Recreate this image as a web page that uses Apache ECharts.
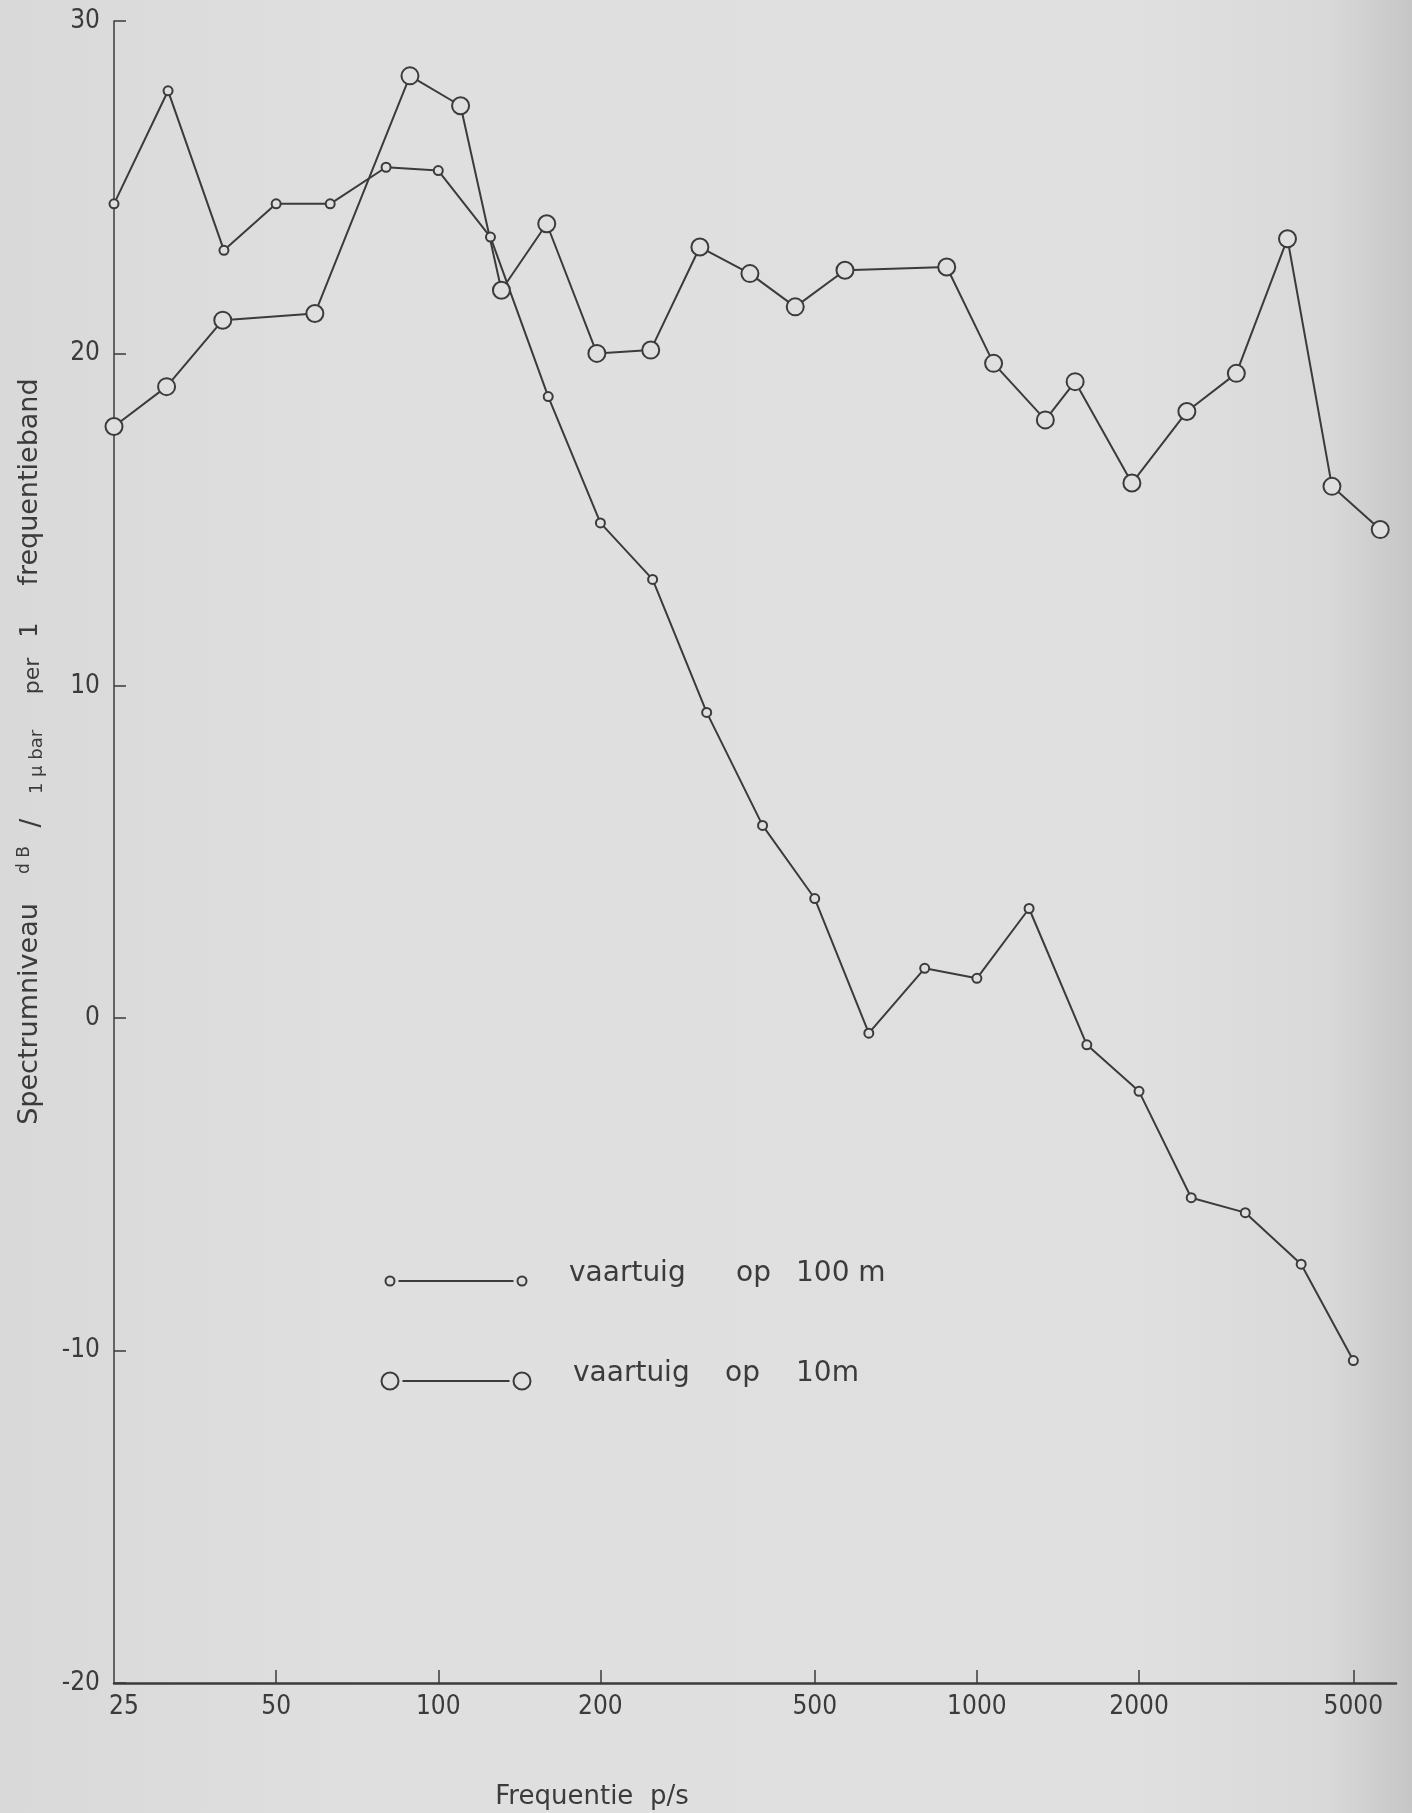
<!DOCTYPE html>
<html>
<head>
<meta charset="utf-8">
<title>Spectrumniveau vaartuig</title>
<script src="https://cdn.jsdelivr.net/npm/echarts@6/dist/echarts.min.js"></script>
<style>
  html, body { margin: 0; padding: 0; }
  body { background: linear-gradient(90deg, #d9d9d9 0%, #dfdfdf 25%, #e0e0e0 80%, #d9d9d9 94%, #c6c6c6 100%); }
  #chart { width: 1412px; height: 1813px; }
</style>
</head>
<body>
<div id="chart"></div>
<script>
// data (1/3 octave bands for 100 m)
const freq100 = [25, 31.5, 40, 50, 63, 80, 100, 125, 160, 200, 250, 315, 400, 500, 630, 800, 1000, 1250, 1600, 2000, 2500, 3150, 4000, 5000];
const level100 = [24.5, 27.9, 23.1, 24.5, 24.5, 25.6, 25.5, 23.5, 18.7, 14.9, 13.2, 9.2, 5.8, 3.6, -0.45, 1.5, 1.2, 3.3, -0.8, -2.2, -5.4, -5.85, -7.4, -10.3];

const freq10 = [25, 31.3, 39.8, 59, 88.6, 110, 131, 159, 197, 248, 306, 379, 460, 569, 879, 1074, 1340, 1522, 1940, 2454, 3032, 3773, 4563, 5609];
const level10 = [17.8, 19.0, 21.0, 21.2, 28.35, 27.45, 21.9, 23.9, 20.0, 20.1, 23.2, 22.4, 21.4, 22.5, 22.6, 19.7, 18.0, 19.15, 16.1, 18.25, 19.4, 23.45, 16.0, 14.7];

const xLabelValues = [25, 50, 100, 200, 500, 1000, 2000, 5000];
const xTickValues = [50, 100, 200, 500, 1000, 2000, 5000];

const seriesNames = ['vaartuig op 100 m', 'vaartuig op 10 m'];

const INK = '#3b3b3b';
const PAPER = '#dfdfdf';
const FONT = "'DejaVu Sans Condensed', 'DejaVu Sans', sans-serif";
const TITLE_FONT = "'DejaVu Sans', sans-serif";

function zip(xs, ys) {
  return xs.map((x, i) => [x, ys[i]]);
}

function lineSeries(name, xs, ys, size) {
  return {
    name,
    type: 'line',
    data: zip(xs, ys),
    symbol: 'circle',
    symbolSize: size,
    showAllSymbol: true,
    itemStyle: { color: PAPER, borderColor: INK, borderWidth: 2 },
    lineStyle: { color: INK, width: 2 },
    emphasis: { disabled: true }
  };
}

// rotated pieces of the y-axis title, bottom to top
function yTitle() {
  const parts = [
    { text: 'Spectrumniveau', x: 30, y: 1014, size: 27 },
    { text: 'd B', x: 25, y: 860, size: 17 },
    { text: '/', x: 32, y: 823, size: 26 },
    { text: '1 μ bar', x: 37, y: 762, size: 18 },
    { text: 'per', x: 33, y: 676, size: 22 },
    { text: '1', x: 31, y: 630, size: 24 },
    { text: 'frequentieband', x: 30, y: 482, size: 27 }
  ];
  return parts.map(p => ({
    type: 'text',
    x: p.x,
    y: p.y,
    rotation: Math.PI / 2,
    silent: true,
    style: {
      text: p.text, fill: INK, fontSize: p.size, fontFamily: TITLE_FONT,
      align: 'center', verticalAlign: 'middle'
    }
  }));
}

// hand drawn style legend: o------o  text
function legendRow(y, r, words) {
  const els = [
    { type: 'line', shape: { x1: 390 + r + 4, y1: y, x2: 522 - r - 4, y2: y }, style: { stroke: INK, lineWidth: 2 } },
    { type: 'circle', shape: { cx: 390, cy: y, r }, style: { fill: PAPER, stroke: INK, lineWidth: 2 } },
    { type: 'circle', shape: { cx: 522, cy: y, r }, style: { fill: PAPER, stroke: INK, lineWidth: 2 } }
  ];
  words.forEach(w => {
    els.push({
      type: 'text', x: w.x, y: y - 7,
      style: { text: w.text, fill: INK, fontSize: 28, fontFamily: TITLE_FONT, align: 'left', verticalAlign: 'middle' }
    });
  });
  return els;
}

const chart = echarts.init(document.getElementById('chart'), null, { renderer: 'canvas' });

chart.setOption({
  animation: false,
  backgroundColor: 'transparent',
  textStyle: { fontFamily: FONT, color: INK },
  grid: { left: 114, top: 21, right: 16, bottom: 130, outerBoundsMode: 'none' },
  xAxis: {
    type: 'log',
    logBase: 10,
    min: 25,
    max: 6000,
    axisLine: { show: true, onZero: false, lineStyle: { color: INK, width: 2.5 } },
    axisTick: { show: true, inside: true, length: 13, customValues: xTickValues, lineStyle: { color: INK, width: 1.5 } },
    axisLabel: {
      show: true,
      customValues: xLabelValues,
      margin: 11,
      fontSize: 26,
      color: INK,
      fontFamily: FONT,
      // first label sits a little right of the corner in the original
      formatter: v => (v === 25 ? '{first|25}' : String(v)),
      rich: { first: { fontSize: 26, color: INK, fontFamily: FONT, padding: [0, 0, 0, 20] } }
    },
    minorTick: { show: false },
    splitLine: { show: false }
  },
  yAxis: {
    type: 'value',
    min: -20,
    max: 30,
    interval: 10,
    axisLine: { show: true, onZero: false, lineStyle: { color: INK, width: 1.5 } },
    axisTick: { show: true, inside: true, length: 12, lineStyle: { color: INK, width: 1.5 } },
    axisLabel: { margin: 14, fontSize: 26, color: INK, fontFamily: FONT },
    splitLine: { show: false }
  },
  series: [
    lineSeries(seriesNames[0], freq100, level100, 9),
    lineSeries(seriesNames[1], freq10, level10, 17)
  ],
  graphic: [
    ...yTitle(),
    ...legendRow(1281, 4.5, [{ text: 'vaartuig', x: 569 }, { text: 'op', x: 736 }, { text: '100 m', x: 796 }]),
    ...legendRow(1381, 8.5, [{ text: 'vaartuig', x: 573 }, { text: 'op', x: 725 }, { text: '10m', x: 796 }]),
    {
      type: 'text', x: 592, y: 1797, silent: true,
      style: { text: 'Frequentie  p/s', fill: INK, fontSize: 26, fontFamily: TITLE_FONT, align: 'center', verticalAlign: 'middle' }
    }
  ]
});
</script>
</body>
</html>
